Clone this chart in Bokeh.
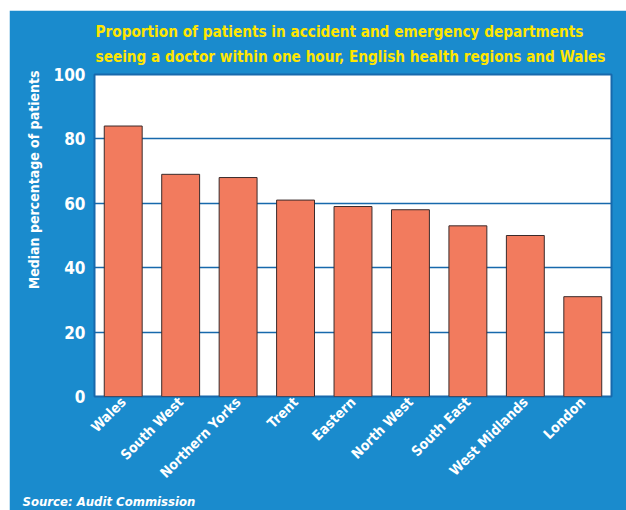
import math
from bokeh.plotting import figure
from bokeh.models import FactorRange, Range1d, Title, FixedTicker, ColumnDataSource
from bokeh.embed import file_html
from bokeh.resources import INLINE

regions = ["Wales", "South West", "Northern Yorks", "Trent", "Eastern",
           "North West", "South East", "West Midlands", "London"]
median_pct = [84, 69, 68, 61, 59, 58, 53, 50, 31]
y_ticks = [0, 20, 40, 60, 80, 100]
title_lines = ["Proportion of patients in accident and emergency departments",
               "seeing a doctor within one hour, English health regions and Wales"]
y_label = "Median percentage of patients"
source_text = "Source: Audit Commission"

FONT = "'Liberation Sans Narrow', 'DejaVu Sans Condensed', 'Arial Narrow', sans-serif"
BLUE = "#1a8bcd"
DARK = "#1769ac"
YELLOW = "#ffe600"

p = figure(x_range=FactorRange(factors=regions, range_padding=0),
           y_range=Range1d(0, 100),
           width=617, height=500, output_backend="svg", toolbar_location=None,
           min_border_left=85, min_border_right=15, min_border_top=64, min_border_bottom=114,
           background_fill_color="white", border_fill_color=BLUE,
           outline_line_color=DARK, outline_line_width=2)
p.margin = (10, 0, 0, 9)

src = ColumnDataSource(dict(region=regions, pct=median_pct))
p.vbar(x="region", top="pct", width=0.66, source=src,
       fill_color="#f27b5e", line_color="#3a2b2b", line_width=1)

p.xgrid.grid_line_color = None
p.ygrid.grid_line_color = DARK
p.ygrid.grid_line_width = 1.5
p.yaxis.ticker = FixedTicker(ticks=y_ticks)

for ax in (p.xaxis[0], p.yaxis[0]):
    ax.axis_line_color = None
    ax.major_tick_line_color = None
    ax.minor_tick_line_color = None
    ax.major_tick_out = 0
    ax.major_tick_in = 0
    ax.major_label_text_color = "white"
    ax.major_label_text_font = FONT
    ax.major_label_text_font_style = "bold"

p.yaxis.major_label_text_font_size = "17px"
p.yaxis.major_label_standoff = 9
p.xaxis.major_label_text_font_size = "14px"
p.xaxis.major_label_orientation = math.pi / 4
p.xaxis.major_label_standoff = 3

# title lines (first added sits closest to the frame)
p.add_layout(Title(text=title_lines[1], align="left", offset=1, standoff=17,
                   text_color=YELLOW, text_font=FONT, text_font_style="bold",
                   text_font_size="15.2px"), "above")
p.add_layout(Title(text=title_lines[0], align="left", offset=1, standoff=-7,
                   text_color=YELLOW, text_font=FONT, text_font_style="bold",
                   text_font_size="15.2px"), "above")

# y label on the left, near the top
p.add_layout(Title(text=y_label, align="right", offset=-4, standoff=18,
                   text_color="white", text_font=FONT, text_font_style="bold",
                   text_font_size="14px"), "left")

# source note below
p.add_layout(Title(text=source_text, align="left", offset=-72, standoff=4,
                   text_color="white", text_font=FONT, text_font_style="bold italic",
                   text_font_size="13px"), "below")

open("out.html", "w").write(file_html(p, INLINE))
